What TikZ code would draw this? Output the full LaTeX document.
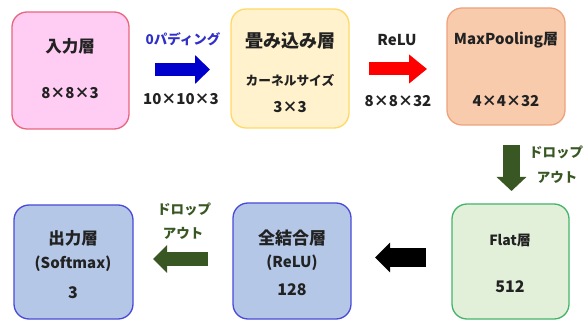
\documentclass[tikz,border=0pt]{standalone}
\usepackage{fontspec}
\setmainfont{Noto Sans CJK JP}
\usetikzlibrary{arrows.meta}
\definecolor{pinkfill}{HTML}{FFCCF4}
\definecolor{pinkline}{HTML}{E8667E}
\definecolor{yelfill}{HTML}{FFF2CC}
\definecolor{yelline}{HTML}{FFD966}
\definecolor{orfill}{HTML}{F8CBAD}
\definecolor{orline}{HTML}{EDA37C}
\definecolor{grfill}{HTML}{E2F0D9}
\definecolor{grline}{HTML}{44B46A}
\definecolor{blfill}{HTML}{B4C7E7}
\definecolor{blline}{HTML}{4A4AD8}
\definecolor{txt}{HTML}{222222}
\definecolor{padblue}{HTML}{3030C8}
\definecolor{arrblue}{HTML}{0000CC}
\definecolor{arrred}{HTML}{FF0000}
\definecolor{dkgreen}{HTML}{385723}
\newcommand{\fsz}[1]{\fontsize{#1}{#1}\selectfont\bfseries}
\tikzset{
  layer/.style={draw, line width=1.3pt, rounded corners=15pt, inner sep=0pt},
  title/.style={font=\fsz{16.5}, text=txt, inner sep=0pt},
  val/.style={font=\fsz{15}, text=txt, inner sep=0pt},
  small/.style={font=\fsz{12.7}, text=txt, inner sep=0pt},
  lbl/.style={font=\fsz{13.5}, inner sep=0pt},
  blockarrow/.style={line width=#1, line cap=butt},
}
\begin{document}
\begin{tikzpicture}[x=1pt,y=-1pt]
\useasboundingbox (0,0) rectangle (586,320);
% boxes
\node[layer, fill=pinkfill, draw=pinkline, minimum width=117pt, minimum height=117pt] (in) at (70.5,70.5) {};
\node[layer, fill=yelfill, draw=yelline, minimum width=118pt, minimum height=119pt] (conv) at (290,68.5) {};
\node[layer, fill=orfill, draw=orline, minimum width=118pt, minimum height=117pt] (pool) at (506,66.5) {};
\node[layer, fill=grfill, draw=grline, minimum width=117pt, minimum height=115pt] (flat) at (510.5,261.5) {};
\node[layer, fill=blfill, draw=blline, minimum width=118pt, minimum height=116pt] (fc) at (292,261) {};
\node[layer, fill=blfill, draw=blline, minimum width=119pt, minimum height=114pt] (out) at (73.5,262) {};
% box texts
\node[title] (inT) at (70,46) {入力層};
\node[val] (inV) at (70,93) {8×8×3};
\node[title, font=\fsz{18}] (convT) at (290,41) {畳み込み層};
\node[small] (convK) at (290,80) {カーネルサイズ};
\node[val] (convV) at (290,107) {3×3};
\node[title, font=\fsz{15}] (poolT) at (506,40) {MaxPooling層};
\node[val] (poolV) at (506,101) {4×4×32};
\node[title, font=\fsz{14}] (flatT) at (510,240) {Flat層};
\node[val, font=\fsz{16}] (flatV) at (510,287) {512};
\node[title, font=\fsz{17}] (fcT) at (292,238) {全結合層};
\node[val] (fcR) at (292,263) {(ReLU)};
\node[val, font=\fsz{16}] (fcV) at (292,290) {128};
\node[title] (outT) at (73,238) {出力層};
\node[val] (outS) at (73,264) {(Softmax)};
\node[val, font=\fsz{16}] (outV) at (73,293) {3};
% arrow labels
\node[lbl, text=padblue] (padL) at (183,39) {0パディング};
\node[val] (padV) at (181,99) {10×10×3};
\node[lbl, text=txt, font=\fsz{15}] (reluL) at (397,40) {ReLU};
\node[val] (reluV) at (398,101) {8×8×32};
\node[lbl, text=dkgreen] (do1a) at (556,152) {ドロップ};
\node[lbl, text=dkgreen] (do1b) at (557,177) {アウト};
\node[lbl, text=dkgreen] (do2a) at (184,209) {ドロップ};
\node[lbl, text=dkgreen] (do2b) at (183,233) {アウト};
% arrow end points
\coordinate (a1s) at (155,69.5); \coordinate (a1e) at (210,69.5);
\coordinate (a2s) at (369,69); \coordinate (a2e) at (427,69);
\coordinate (a3s) at (511.5,145); \coordinate (a3e) at (511.5,191);
\coordinate (a4s) at (426,257.5); \coordinate (a4e) at (375,257.5);
\coordinate (a5s) at (208,259); \coordinate (a5e) at (153,259);
% block arrows
\draw[arrblue, blockarrow=13pt, -{Triangle[width=28pt,length=15pt]}] (a1s) -- (a1e);
\draw[arrred, blockarrow=13pt, -{Triangle[width=28pt,length=18pt]}] (a2s) -- (a2e);
\draw[dkgreen, blockarrow=17pt, -{Triangle[width=29pt,length=14pt]}] (a3s) -- (a3e);
\draw[black, blockarrow=19pt, -{Triangle[width=29pt,length=15pt]}] (a4s) -- (a4e);
\draw[dkgreen, blockarrow=14pt, -{Triangle[width=27pt,length=14pt]}] (a5s) -- (a5e);
\end{tikzpicture}
\end{document}
